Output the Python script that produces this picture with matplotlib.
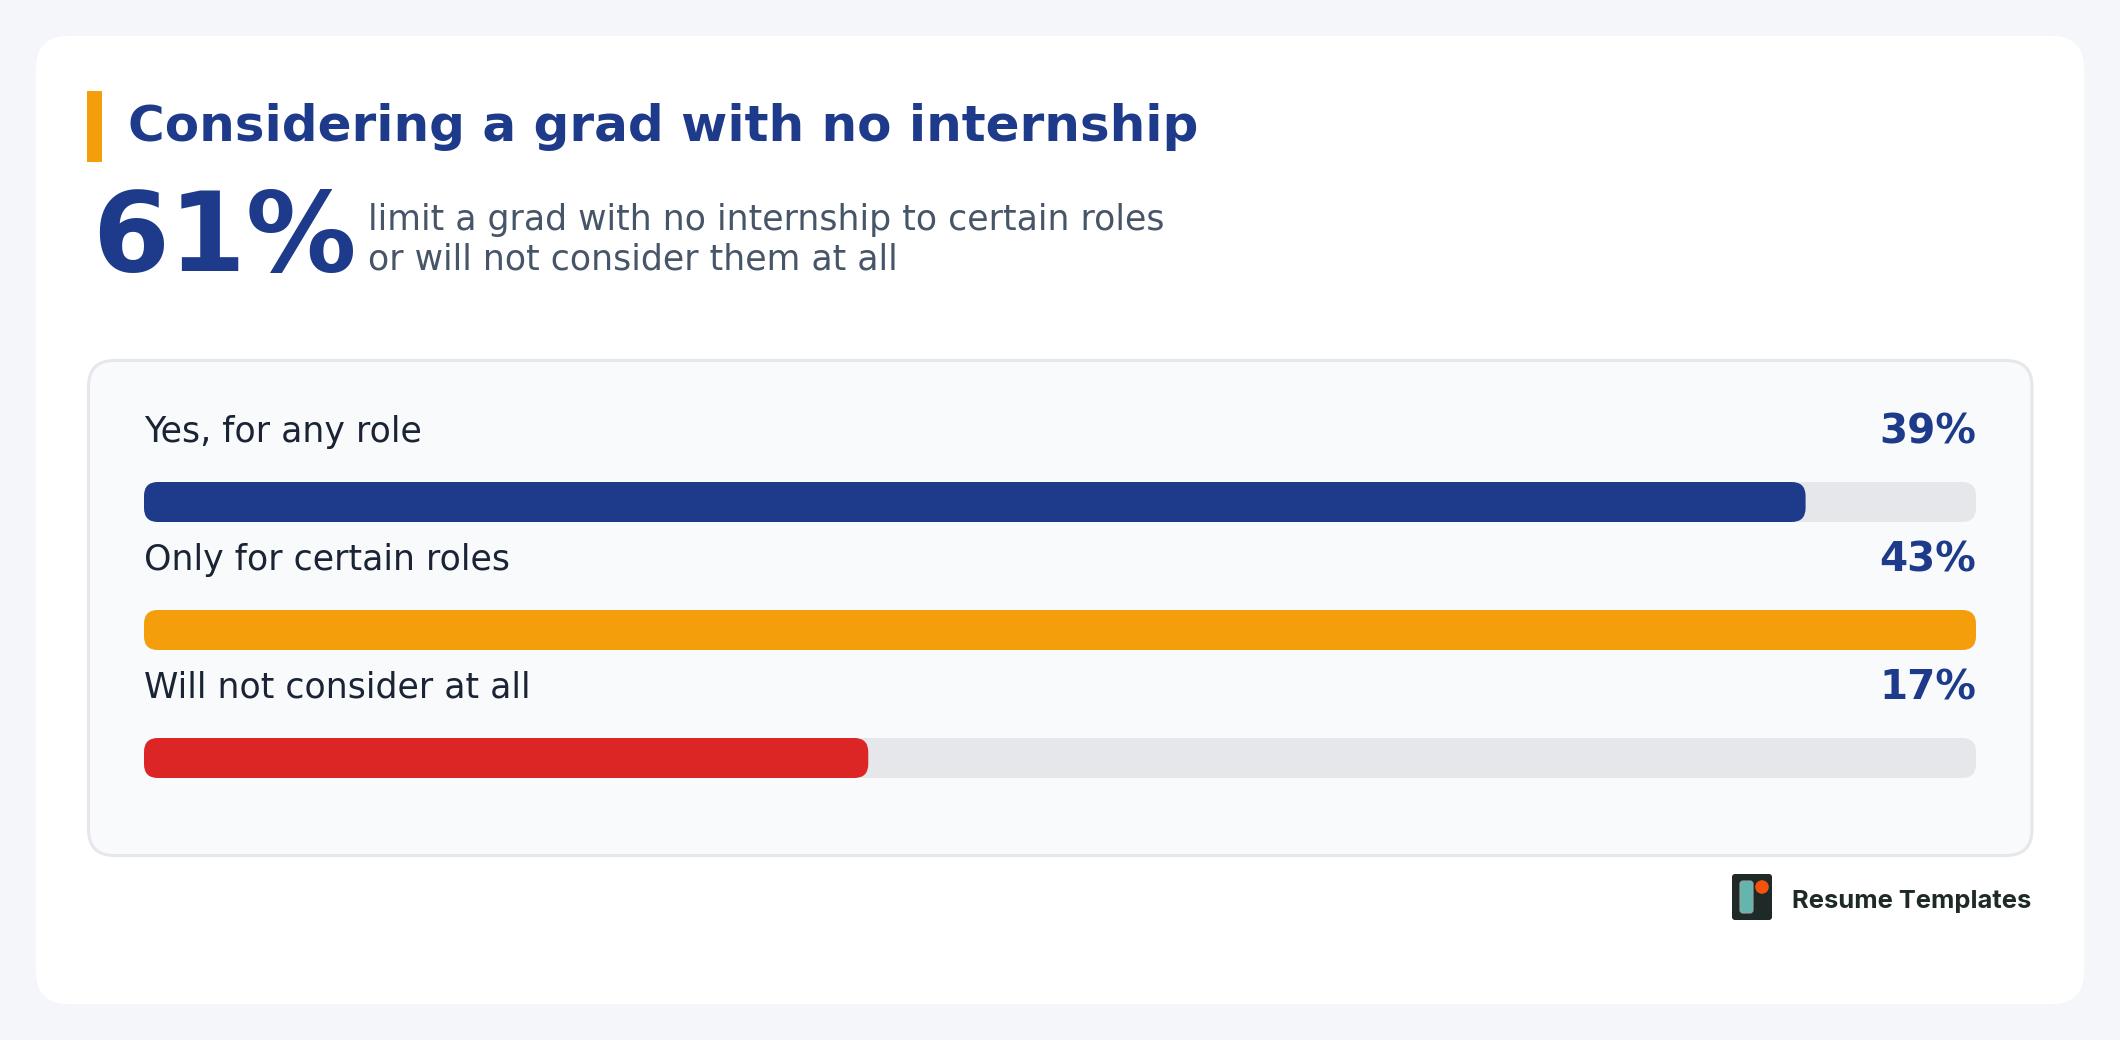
import matplotlib
matplotlib.use("Agg")
import matplotlib.pyplot as plt
from matplotlib.patches import FancyBboxPatch, Rectangle, Circle

# Survey results
categories = ["Yes, for any role", "Only for certain roles", "Will not consider at all"]
shares = [39, 43, 17]
bar_colors = ["#1e3a8a", "#f59e0b", "#dc2626"]
title = "Considering a grad with no internship"
headline = "61%"
subtitle = ["limit a grad with no internship to certain roles", "or will not consider them at all"]
brand = "Resume Templates"

W, H = 2120, 1040
NAVY = "#1e3a8a"
plt.rcParams["font.family"] = ["DejaVu Sans"]
PX = 0.72  # points per pixel at 100 dpi

fig = plt.figure(figsize=(W / 100, H / 100), dpi=100, facecolor="#f4f6fa")
page = fig.add_axes([0, 0, 1, 1])
page.set_xlim(0, W)
page.set_ylim(H, 0)
page.axis("off")


def rounded(ax, x0, y0, x1, y1, r, aspect=1.0, **kw):
    patch = FancyBboxPatch((x0 + r, y0 + r * aspect), x1 - x0 - 2 * r, y1 - y0 - 2 * r * aspect,
                           boxstyle=f"round,pad={r},rounding_size={r}",
                           mutation_aspect=aspect, **kw)
    ax.add_patch(patch)
    return patch


# Card, accent stripe and bar panel
rounded(page, 36, 36, 2084, 1004, 32, fc="white", ec="none")
page.add_patch(Rectangle((87, 91), 15, 71, fc="#f59e0b", ec="none"))
rounded(page, 88.5, 360.5, 2032, 855.5, 26, fc="#f9fafb", ec="#e5e7eb", lw=2.2)

# Heading block
page.text(128, 141, title, fontsize=50 * PX, fontweight="bold", color=NAVY, va="baseline")
page.text(92, 271, headline, fontsize=110.5 * PX, fontweight="bold", color=NAVY, va="baseline")
for line, base in zip(subtitle, [230, 270]):
    page.text(368, base, line, fontsize=34.8 * PX, color="#475569", va="baseline")

# Bars on a value axis scaled to the largest share; y runs in pixels
bars = fig.add_axes([144 / W, 1 - 778 / H, (1976 - 144) / W, (778 - 482) / H])
bars.set_xlim(0, max(shares))
bars.set_ylim(778, 482)
bars.axis("off")
bars.patch.set_alpha(0)
unit = (1976 - 144) / max(shares)  # pixels per percentage point
rad = 14 / unit
for i, (cat, val, col) in enumerate(zip(categories, shares, bar_colors)):
    top = 482 + 128 * i
    rounded(bars, 0, top, max(shares), top + 40, rad, aspect=unit, fc="#e5e7eb", ec="none", clip_on=False)
    rounded(bars, 0, top, val, top + 40, rad, aspect=unit, fc=col, ec="none", clip_on=False)
    base = 442 + 128 * i
    page.text(144, base, cat, fontsize=34.8 * PX, color="#1a2434", va="baseline")
    page.text(1976, base + 1, f"{val}%", fontsize=40.5 * PX, fontweight="bold", color=NAVY,
              va="baseline", ha="right")

# Brand mark
rounded(page, 1732, 874, 1772, 920, 3, fc="#1f2928", ec="none")
rounded(page, 1740, 881, 1753, 913, 3, fc="#63b5ae", ec="#9aa5a3", lw=0.8)
page.add_patch(Circle((1762, 887), 6.8, fc="#f4530c", ec="none"))
page.text(1792, 908, brand, fontsize=25.5 * PX, family=["Inter", "DejaVu Sans"], fontweight="bold",
          color="#1f2928", va="baseline")

fig.savefig("out.png", dpi=100, facecolor=fig.get_facecolor())
